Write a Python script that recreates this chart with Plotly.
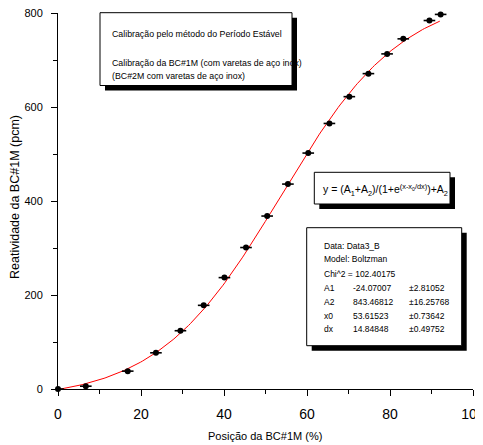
import numpy as np
import plotly.graph_objects as go

pos = [0, 6.7, 16.8, 23.6, 29.5, 35.1, 40.1, 45.3, 50.4, 55.4, 60.3, 65.4, 70.2, 74.8, 79.3, 83.2, 89.5, 92.2]
reat = [0, 6, 38, 77, 124, 178, 237, 301, 368, 436, 502, 565, 622, 671, 713, 745, 784, 797]
pos_err = [1.4] * len(pos)
reat_err = [4] * len(pos)

# Boltzmann fit parameters shown on the chart
A1, A2, X0, DX = -24.07007, 843.46812, 53.61523, 14.84848
xfit = np.linspace(0, 92, 200)
yfit = (A1 - A2) / (1 + np.exp((xfit - X0) / DX)) + A2

FONT = "Liberation Sans, Arial"

# page body has an 8px margin: compensate
OX, OY = 8, 8
FW, FH = 483 - OX, 445 - OY
L, T, PW, PH = 58 - OX, 13 - OY, 415, 376
def px(x):
    return (x - OX - L) / PW
def py(y):
    return 1 - (y - OY - T) / PH

fig = go.Figure()
fig.add_trace(go.Scatter(x=xfit, y=yfit, mode="lines",
                         line=dict(color="#ff0000", width=1), hoverinfo="skip"))
fig.add_trace(go.Scatter(x=pos, y=reat, mode="markers",
                         marker=dict(color="black", size=6),
                         error_x=dict(type="data", array=pos_err, color="black", thickness=1.6, width=0),
                         error_y=dict(type="data", array=reat_err, color="black", thickness=1.2, width=0),
                         cliponaxis=False))

shapes = []
def box(x0, y0, x1, y1, off=5):
    shapes.append(dict(type="rect", xref="paper", yref="paper",
                       x0=px(x0 + off), x1=px(x1 + off), y0=py(y1 + off), y1=py(y0 + off),
                       fillcolor="black", line=dict(width=0), layer="above"))
    shapes.append(dict(type="rect", xref="paper", yref="paper",
                       x0=px(x0), x1=px(x1), y0=py(y1), y1=py(y0),
                       fillcolor="white", line=dict(color="black", width=1), layer="above"))

box(100, 12.7, 292, 85.5)
box(314.3, 172.3, 450, 204)
box(306.7, 227.7, 461.7, 345.7)

ann = []
def text(x, y, s, size=10, anchor="left", angle=0):
    ann.append(dict(x=px(x), y=py(y), xref="paper", yref="paper", text=s, showarrow=False,
                    xanchor=anchor, yanchor="middle", textangle=angle,
                    font=dict(family=FONT, size=size, color="black")))

text(110, 34, "Calibração pelo método do Período Estável", 8.8)
text(110, 63, "Calibração da BC#1M (com varetas de aço inox)", 8.8)
text(110, 76, "(BC#2M com varetas de aço inox)", 8.8)
text(321, 190, "y = (A<sub>1</sub>+A<sub>2</sub>)/(1+e<sup>(x-x<sub>0</sub>/dx)</sup>)+A<sub>2</sub>", 10.5)

stats_y = [245.7, 259.3, 273.7, 287.7, 301.7, 315.7, 329]
SS = 8.5
text(322, stats_y[0], "Data: Data3_B", SS)
text(322, stats_y[1], "Model: Boltzman", SS)
text(322, stats_y[2], "Chi^2 = 102.40175", SS)
rows = [("A1", "-24.07007", "±2.81052"), ("A2", "843.46812", "±16.25768"),
        ("x0", "53.61523", "±0.73642"), ("dx", "14.84848", "±0.49752")]
for i, (a, b, c) in enumerate(rows):
    y = stats_y[3 + i]
    text(322, y, a, SS)
    text(351, y, b, SS)
    text(407, y, c, SS)

# axis titles
text(265, 436, "Posição da BC#1M (%)", 11, anchor="center")
text(15, 197, "Reatividade da BC#1M (pcm)", 12.5, anchor="center", angle=-90)

axis_common = dict(showline=True, linecolor="black", linewidth=1, ticks="outside",
                   ticklen=6, tickcolor="black", showgrid=False, zeroline=False,
                   automargin=False, ticklabeloverflow="allow")
fig.update_layout(
    width=FW, height=FH, margin=dict(l=L, r=FW - L - PW, t=T, b=FH - T - PH),
    paper_bgcolor="white", plot_bgcolor="white", showlegend=False,
    shapes=shapes, annotations=ann,
    xaxis=dict(range=[0, 100], dtick=20, tick0=0,
               minor=dict(dtick=10, ticklen=4, ticks="outside", tickcolor="black"),
               tickfont=dict(family=FONT, size=14, color="black"), ticklabelstandoff=6,
               **axis_common),
    yaxis=dict(range=[0, 800], dtick=200, tick0=0,
               minor=dict(dtick=100, ticklen=4, ticks="outside", tickcolor="black"),
               tickfont=dict(family=FONT, size=11, color="black"), ticklabelstandoff=6,
               **axis_common),
)
fig.write_html("out.html")
